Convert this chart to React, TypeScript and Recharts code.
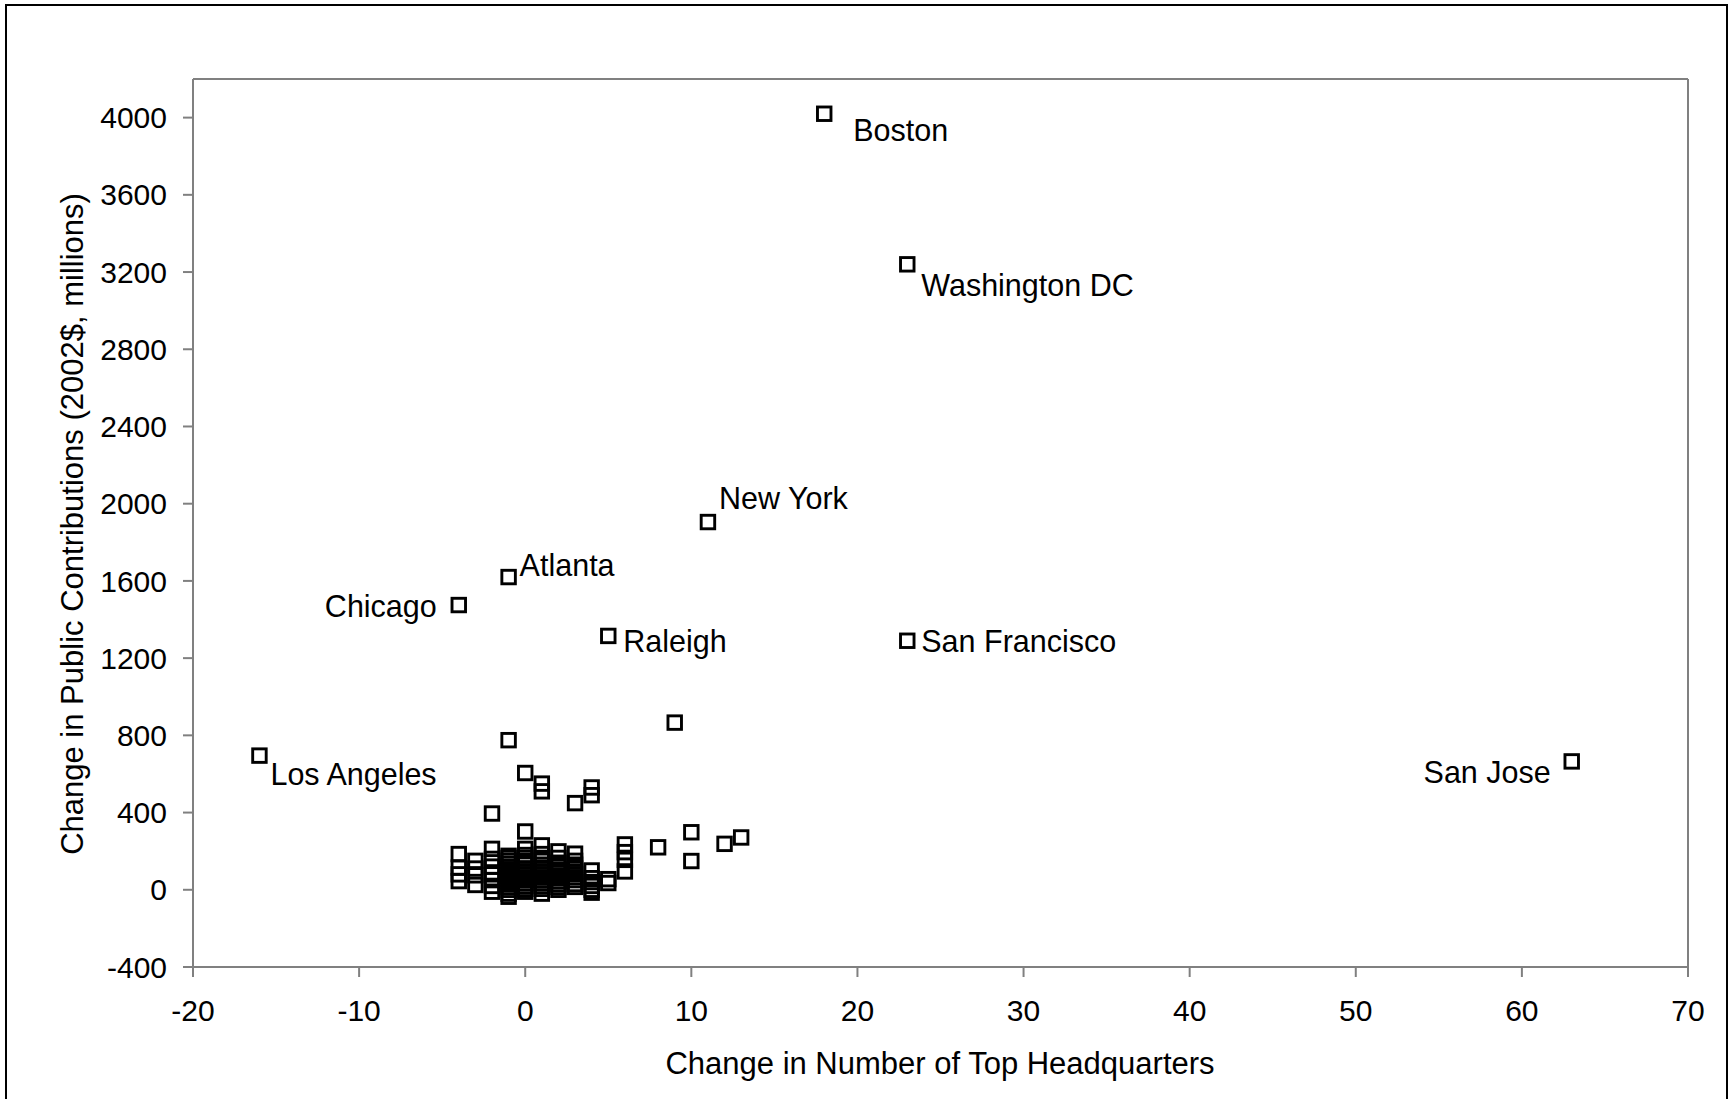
import React from 'react';
import { ScatterChart, Scatter, XAxis, YAxis, ReferenceLine } from 'recharts';

// Labeled metro areas
const cityNames = ['Boston', 'Washington DC', 'New York', 'Atlanta', 'Chicago', 'Raleigh', 'San Francisco', 'Los Angeles', 'San Jose'];
const cityHQ = [18, 23, 11, -1, -4, 5, 23, -16, 63];
const cityContrib = [4020, 3240, 1905, 1620, 1475, 1315, 1290, 695, 665];

// Unlabeled metro areas
const otherHQ = [
  -4, -4, -4, -4,
  -3, -3, -3, -3,
  -2, -2, -2, -2, -2, -2, -2, -2,
  -1, -1, -1, -1, -1, -1, -1, -1, -1, -1, -1, -1, -1, -1, -1, -1,
  0, 0, 0, 0, 0, 0, 0, 0, 0, 0, 0, 0, 0, 0, 0, 0,
  1, 1, 1, 1, 1, 1, 1, 1, 1, 1, 1, 1, 1, 1, 1, 1,
  2, 2, 2, 2, 2, 2, 2, 2, 2, 2, 2, 2,
  3, 3, 3, 3, 3, 3, 3, 3, 3, 3, 3,
  4, 4, 4, 4, 4, 4, 4, 4,
  5, 5,
  6, 6, 6, 6,
  8, 9, 10, 10, 12, 13,
];
const otherContrib = [
  185, 115, 80, 45,
  150, 110, 75, 25,
  395, 212, 160, 120, 80, 50, 20, -10,
  775, 176, 165, 150, 135, 120, 105, 90, 75, 60, 45, 30, 15, 0, -20, -36,
  605, 302, 212, 180, 165, 150, 130, 110, 95, 80, 65, 50, 35, 20, 5, -10,
  550, 510, 230, 185, 165, 150, 130, 110, 95, 80, 65, 50, 35, 20, 5, -20,
  199, 165, 140, 120, 105, 90, 75, 60, 45, 30, 15, 0,
  449, 187, 150, 130, 110, 95, 80, 65, 50, 30, 15,
  530, 490, 100, 60, 40, 20, 0, -15,
  55, 35,
  235, 195, 155, 95,
  220, 866, 298, 149, 238, 271,
];

const xTicks = [-20, -10, 0, 10, 20, 30, 40, 50, 60, 70];
const yTicks = [-400, 0, 400, 800, 1200, 1600, 2000, 2400, 2800, 3200, 3600, 4000];

const xTitle = 'Change in Number of Top Headquarters';
const yTitle = 'Change in Public Contributions (2002$, millions)';

const cityData = cityNames.map((name, i) => ({ name, x: cityHQ[i], y: cityContrib[i] }));
const otherData = otherHQ.map((x, i) => ({ x, y: otherContrib[i] }));

const FONT = '"Liberation Sans", Arial, Helvetica, sans-serif';
const GRAY = '#808080';
const MS = 13.5;
const SW = 2.9;

const labelStyle: Record<string, { dx: number; dy: number; anchor: 'start' | 'end' }> = {
  'Boston': { dx: 29, dy: 27, anchor: 'start' },
  'Washington DC': { dx: 14, dy: 32, anchor: 'start' },
  'New York': { dx: 11, dy: -13, anchor: 'start' },
  'Atlanta': { dx: 11, dy: -1, anchor: 'start' },
  'Chicago': { dx: -22, dy: 12, anchor: 'end' },
  'Raleigh': { dx: 15, dy: 16, anchor: 'start' },
  'San Francisco': { dx: 14, dy: 11, anchor: 'start' },
  'Los Angeles': { dx: 11, dy: 29, anchor: 'start' },
  'San Jose': { dx: -21, dy: 22, anchor: 'end' },
};

const SquareMarker = (props: any) => {
  const { cx, cy } = props;
  if (cx == null || cy == null) return null;
  return (
    <rect x={cx - MS / 2} y={cy - MS / 2} width={MS} height={MS} fill="none" stroke="#000" strokeWidth={SW} />
  );
};

const LabeledMarker = (props: any) => {
  const { cx, cy, payload } = props;
  if (cx == null || cy == null) return null;
  const s = labelStyle[payload.name] || { dx: 12, dy: 0, anchor: 'start' };
  return (
    <g>
      <rect x={cx - MS / 2} y={cy - MS / 2} width={MS} height={MS} fill="none" stroke="#000" strokeWidth={SW} />
      <text x={cx + s.dx} y={cy + s.dy} textAnchor={s.anchor} fontSize={30.5} fontFamily={FONT} fill="#000">
        {payload.name}
      </text>
    </g>
  );
};

export default function App() {
  const tickStyle = { fill: '#000', fontSize: 30, fontFamily: FONT };
  return (
    <div style={{ position: 'absolute', left: 0, top: 0, width: 1730, height: 1099, background: '#fff', overflow: 'hidden' }}>
      <div
        style={{
          position: 'absolute',
          left: 5,
          top: 4,
          width: 1730 - 5 - 2,
          height: 1200,
          borderLeft: '2px solid #000',
          borderTop: '2px solid #000',
          borderRight: '2px solid #000',
          boxSizing: 'border-box',
        }}
      />
      <div style={{ position: 'absolute', left: 0, top: 0 }}>
        <ScatterChart width={1730} height={1099} margin={{ top: 79, right: 42, bottom: 72, left: 0 }}>
          <XAxis
            type="number"
            dataKey="x"
            domain={[-20, 70]}
            ticks={xTicks}
            interval={0}
            allowDataOverflow
            height={60}
            axisLine={{ stroke: GRAY, strokeWidth: 2 }}
            tickLine={{ stroke: GRAY, strokeWidth: 2 }}
            tickSize={10}
            tickMargin={23}
            tick={tickStyle}
          />
          <YAxis
            type="number"
            dataKey="y"
            domain={[-400, 4200]}
            ticks={yTicks}
            interval={0}
            allowDataOverflow
            width={193}
            axisLine={{ stroke: GRAY, strokeWidth: 2 }}
            tickLine={{ stroke: GRAY, strokeWidth: 2 }}
            tickSize={10}
            tickMargin={16}
            tick={tickStyle}
          />
          <ReferenceLine y={4200} stroke={GRAY} strokeWidth={2} />
          <ReferenceLine x={70} stroke={GRAY} strokeWidth={2} />
          <Scatter data={otherData} shape={SquareMarker} isAnimationActive={false} />
          <Scatter data={cityData} shape={LabeledMarker} isAnimationActive={false} />
        </ScatterChart>
      </div>
      <svg width={1730} height={1099} style={{ position: 'absolute', left: 0, top: 0, pointerEvents: 'none' }}>
        <text x={940} y={1074} textAnchor="middle" fontSize={31} fontFamily={FONT} fill="#000">
          {xTitle}
        </text>
        <text
          x={72}
          y={524}
          dy="0.35em"
          textAnchor="middle"
          transform="rotate(-90, 72, 524)"
          fontSize={31}
          fontFamily={FONT}
          fill="#000"
        >
          {yTitle}
        </text>
      </svg>
    </div>
  );
}
